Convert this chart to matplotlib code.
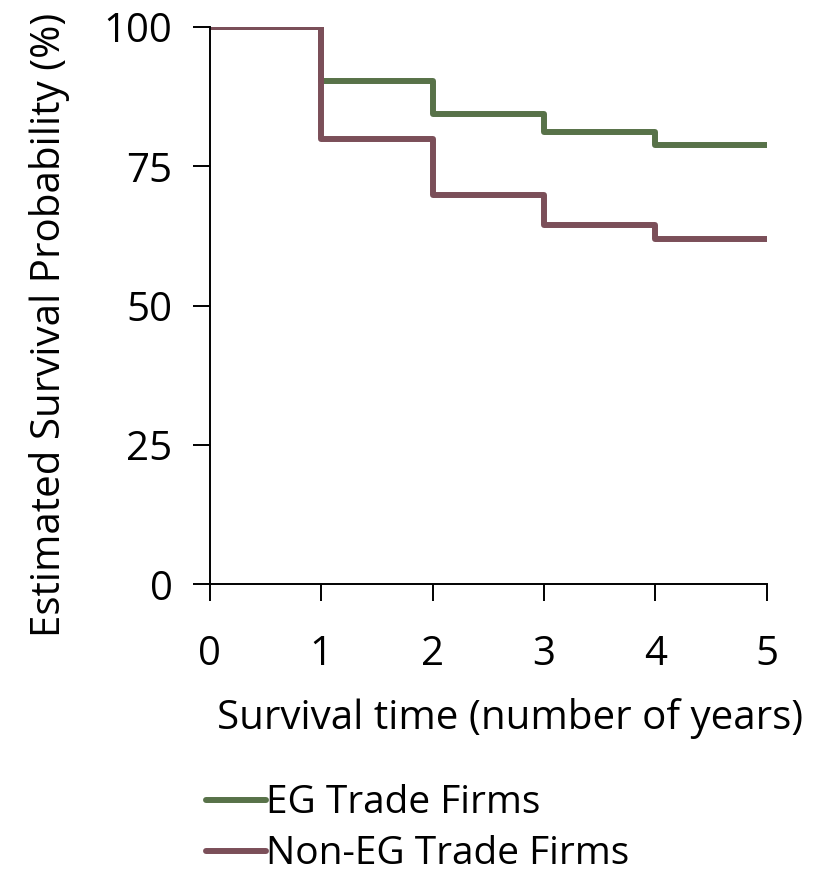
import matplotlib as mpl
mpl.use('Agg')
import matplotlib.pyplot as plt

years = [0, 1, 2, 3, 4, 5]
eg_firms = [100, 90.3, 84.4, 81.2, 78.9, 78.9]
non_eg_firms = [100, 80.0, 69.9, 64.4, 61.9, 61.9]
y_ticks = [0, 25, 50, 75, 100]

plt.rcParams['font.family'] = ['Open Sans', 'DejaVu Sans']

fig = plt.figure(figsize=(8.2, 8.76), dpi=100)
ax = fig.add_axes([0.256, 0.333, 0.679, 0.636])

ax.plot(years, eg_firms, drawstyle='steps-post', color='#587249', lw=4.3,
        solid_joinstyle='round', solid_capstyle='round', label='EG Trade Firms')
ax.plot(years, non_eg_firms, drawstyle='steps-post', color='#7B4F59', lw=4.3,
        solid_joinstyle='round', solid_capstyle='round', label='Non-EG Trade Firms')

ax.set_xlim(0, 5)
ax.set_ylim(0, 100)
ax.set_yticks(y_ticks)
ax.set_xticks(years)
ax.spines['top'].set_visible(False)
ax.spines['right'].set_visible(False)
for s in ('left', 'bottom'):
    ax.spines[s].set_linewidth(1.4)
    ax.spines[s].set_clip_on(False)
ax.tick_params(direction='out', length=12, width=1.4, labelsize=29, pad=15)
ax.tick_params(axis='x', pad=24)

ax.set_xlabel('Survival time (number of years)', fontsize=29, labelpad=17)
ax.xaxis.label.set_x(0.539)
ax.set_ylabel('Estimated Survival Probability (%)', fontsize=29, labelpad=24)
ax.yaxis.label.set_y(0.465)

fig.legend(loc='upper left', bbox_to_anchor=(0.227, 0.127), frameon=False,
           fontsize=28, handlelength=1.55, handletextpad=0.0, labelspacing=0.34,
           borderpad=0)

plt.savefig('out.png', dpi=100)
